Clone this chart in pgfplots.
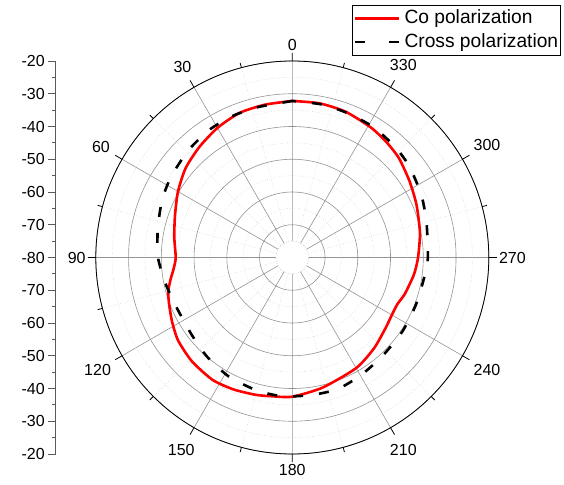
\documentclass[border=0pt]{standalone}
\usepackage{fontspec}
\setmainfont{Liberation Sans}
\usepackage{pgfplots}
\pgfplotsset{compat=1.18}
\usepackage{pgfplotstable}
\usepgfplotslibrary{polar}
\usetikzlibrary{calc}

% angle (deg, counter-clockwise from top) and level (dB)
\pgfplotstableread{
a db
0 -32.2
10 -32.6
20 -33.0
30 -34.3
40 -35.9
50 -37.5
60 -39.7
70 -41.9
80 -43.4
90 -44.4
95 -43.7
100 -42.3
105 -40.8
110 -39.9
118 -38.4
126 -36.9
136 -35.9
147 -35.4
156 -35.9
165 -36.6
172 -37.2
180 -37.5
193 -39.2
210 -41.0
222 -42.7
233 -44.3
240 -44.9
246 -44.9
252 -43.9
262 -42.5
270 -41.6
281 -40.3
293 -38.8
303 -37.3
313 -35.5
321 -34.5
329 -33.6
340 -32.6
350 -32.2
360 -32.2
}\copol

\pgfplotstableread{
a db
0 -32.2
13 -32.9
23 -33.1
33 -33.5
44 -34.4
56 -35.5
66 -36.5
78 -38.0
90 -39.0
101 -40.4
113 -41.5
127 -41.3
139 -40.1
152 -38.8
165 -38.0
176 -37.5
188 -37.6
199 -37.5
210 -38.4
222 -39.2
236 -39.5
249 -39.6
261 -39.3
270 -38.6
285 -37.6
296 -36.2
308 -34.7
317 -33.9
328 -33.1
339 -32.8
349 -32.4
360 -32.2
}\crosspol

\begin{document}
\begin{tikzpicture}
\path[use as bounding box] (0pt,0pt) rectangle (564pt,484pt);

% left radial scale
\begin{axis}[
  at={(55.7pt,226.5pt)}, anchor=west,
  scale only axis, width=20pt, height=393pt,
  xmin=0, xmax=1, ymin=-60, ymax=60,
  hide x axis, axis y line*=left,
  ytick={-60,-50,...,60},
  yticklabels={-20,-30,-40,-50,-60,-70,-80,-70,-60,-50,-40,-30,-20},
  minor y tick num=1,
  tick align=outside,
  major tick length=7.5pt, minor tick length=4pt,
  y axis line style={black!65, line width=0.8pt},
  y tick style={black!65, line width=0.8pt},
  yticklabel style={font=\fontsize{16}{19}\selectfont},
]
\addplot[draw=none] coordinates {(0,0)};
\end{axis}

\begin{polaraxis}[
  at={(292.3pt,226.5pt)}, anchor=center,
  scale only axis, width=393pt, height=393pt,
  ymin=0, ymax=60,
  xtick={0,30,...,330},
  xticklabels={270,300,330,0,30,60,90,120,150,180,210,240},
  minor x tick num=1,
  ytick={0,10,...,60},
  minor y tick num=1,
  yticklabels={},
  grid=both,
  major grid style={gray!85, line width=0.6pt},
  minor grid style={gray!45, dotted, line width=0.6pt},
  x tick style={black, line width=0.8pt},
  y tick style={draw=none},
  y axis line style={draw=none},
  x axis line style={black, line width=0.8pt},
  tick align=inside,
  major tick length=8pt, minor tick length=5pt,
  xticklabel style={font=\fontsize{16}{19}\selectfont, inner sep=10pt},
  legend style={at={(0.652,1.1425)}, anchor=north west, draw=black, line width=0.8pt,
    font=\fontsize{19.2}{23}\selectfont, inner xsep=1.5pt, inner ysep=3pt, row sep=3pt,
    column sep=3pt,
    nodes={inner sep=1pt, text height=14.5pt, text depth=4pt}},
  legend cell align=left,
]
\addplot[red, line width=2.6pt, smooth, tension=0.4,
  legend image code/.code={\draw[red, line width=2.6pt] (0pt,0pt) -- (44pt,0pt);}]
  table[x expr=\thisrow{a}+90, y expr=\thisrow{db}+80] {\copol};
\addlegendentry{Co polarization}
\addplot[black, line width=2.6pt, smooth, tension=0.4, dash pattern=on 10pt off 16pt,
  legend image code/.code={\draw[black, line width=2.6pt, dash pattern=on 10pt off 24pt] (0pt,0pt) -- (44pt,0pt);}]
  table[x expr=\thisrow{a}+90, y expr=\thisrow{db}+80] {\crosspol};
\addlegendentry{Cross polarization}
\fill[white] let \p1=(axis cs:0,0), \p2=(axis cs:90,5), \n1={veclen(\x2-\x1,\y2-\y1)} in (\p1) circle[radius=\n1];
\draw[gray!45, dotted, line width=0.6pt] let \p1=(axis cs:0,0), \p2=(axis cs:90,5), \n1={veclen(\x2-\x1,\y2-\y1)} in (\p1) circle[radius=\n1];
\end{polaraxis}
\end{tikzpicture}
\end{document}
